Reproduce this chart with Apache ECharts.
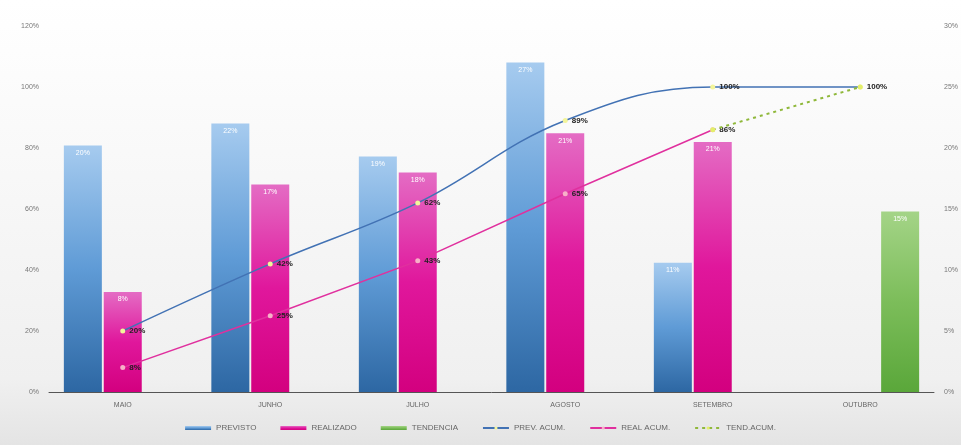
<!DOCTYPE html>
<html>
<head>
<meta charset="utf-8">
<script src="https://cdn.jsdelivr.net/npm/echarts@6/dist/echarts.min.js"></script>
<style>
html,body{margin:0;padding:0;background:#fff;}
#c{width:961px;height:445px;}
</style>
</head>
<body>
<div id="c"></div>
<script>
const categories = ['MAIO', 'JUNHO', 'JULHO', 'AGOSTO', 'SETEMBRO', 'OUTUBRO'];
const previsto = [20.2, 22, 19.3, 27, 10.6, null];
const realizado = [8.2, 17, 18, 21.2, 20.5, null];
const tendencia = [null, null, null, null, null, 14.8];
const prevAcum = [20, 42, 62, 89, 100, 100];
const realAcum = [8, 25, 43, 65, 86, null];
const tendAcum = [null, null, null, null, 86, 100];
const leftTicks = [0, 20, 40, 60, 80, 100, 120];
const rightTicks = [0, 5, 10, 15, 20, 25, 30];

function grad(top, mid, bottom) {
  return new echarts.graphic.LinearGradient(0, 0, 0, 1, [
    {offset: 0, color: top}, {offset: 0.5, color: mid}, {offset: 1, color: bottom}
  ]);
}
const barLabel = {
  show: true, position: 'insideTop', color: '#ffffff', fontSize: 7, distance: 4,
  formatter: p => p.value == null ? '' : Math.round(p.value) + '%'
};
const lineLabel = {
  show: true, position: 'right', color: '#222', fontSize: 8, fontWeight: 'bold', distance: 4,
  formatter: p => p.value == null ? '' : Math.round(p.value) + '%'
};

const chart = echarts.init(document.getElementById('c'));
chart.setOption({
  animation: false,
  backgroundColor: new echarts.graphic.LinearGradient(0, 0, 0, 1, [
    {offset: 0, color: '#ffffff'}, {offset: 0.85, color: '#f0f0f0'}, {offset: 1, color: '#e4e4e4'}
  ]),
  grid: {left: 49, right: 24, top: 26, bottom: 53},
  legend: {
    bottom: 8, left: 'center', itemWidth: 26, itemHeight: 4, itemGap: 24,
    textStyle: {fontSize: 8, color: '#666'},
    data: [
      {name: 'PREVISTO', icon: 'rect'},
      {name: 'REALIZADO', icon: 'rect'},
      {name: 'TENDENCIA', icon: 'rect'},
      'PREV. ACUM.', 'REAL ACUM.', 'TEND.ACUM.'
    ]
  },
  xAxis: {
    type: 'category', data: categories,
    axisLine: {lineStyle: {color: '#555', width: 1}},
    axisTick: {show: false},
    axisLabel: {fontSize: 7, color: '#666', margin: 10}
  },
  yAxis: [
    {
      type: 'value', min: 0, max: 120, interval: 20,
      splitLine: {show: false}, axisLine: {show: false}, axisTick: {show: false},
      axisLabel: {fontSize: 7, color: '#777', formatter: v => leftTicks.includes(v) ? v + '%' : '', margin: 10}
    },
    {
      type: 'value', min: 0, max: 30, interval: 5,
      splitLine: {show: false}, axisLine: {show: false}, axisTick: {show: false},
      axisLabel: {fontSize: 7, color: '#777', formatter: v => rightTicks.includes(v) ? v + '%' : '', margin: 10}
    }
  ],
  series: [
    {
      name: 'PREVISTO', type: 'bar', yAxisIndex: 1, data: previsto,
      barWidth: 38, barGap: '5%',
      itemStyle: {color: grad('#a6cbef', '#5f9bd6', '#2d67a3')},
      label: barLabel
    },
    {
      name: 'REALIZADO', type: 'bar', yAxisIndex: 1, data: realizado,
      barWidth: 38, barGap: '5%',
      itemStyle: {color: grad('#e46cc4', '#e0179c', '#d3007f')},
      label: barLabel
    },
    {
      name: 'TENDENCIA', type: 'bar', yAxisIndex: 1, data: tendencia,
      barWidth: 38, barGap: '5%',
      itemStyle: {color: grad('#a4d487', '#7cbd5a', '#5aa73a')},
      label: barLabel
    },
    {
      name: 'PREV. ACUM.', type: 'line', yAxisIndex: 0, data: prevAcum, smooth: 0.4,
      symbol: 'circle', symbolSize: 5,
      lineStyle: {color: '#4272b4', width: 1.5},
      itemStyle: {color: '#f3f59a', borderWidth: 0},
      label: Object.assign({}, lineLabel, {formatter: p => (p.dataIndex === 5 ? '' : Math.round(p.value) + '%')}),
      z: 5
    },
    {
      name: 'REAL ACUM.', type: 'line', yAxisIndex: 0, data: realAcum,
      symbol: 'circle', symbolSize: 5,
      lineStyle: {color: '#e0309e', width: 1.5},
      itemStyle: {color: '#f7b0c8', borderWidth: 0},
      label: lineLabel,
      z: 5
    },
    {
      name: 'TEND.ACUM.', type: 'line', yAxisIndex: 0, data: tendAcum,
      symbol: 'circle', symbolSize: 5,
      lineStyle: {color: '#8fb83a', width: 2, type: [3, 4]},
      itemStyle: {color: '#e4ef6a', borderWidth: 0},
      label: Object.assign({}, lineLabel, {formatter: p => (p.dataIndex === 5 ? Math.round(p.value) + '%' : '')}),
      z: 6
    }
  ]
});
</script>
</body>
</html>
